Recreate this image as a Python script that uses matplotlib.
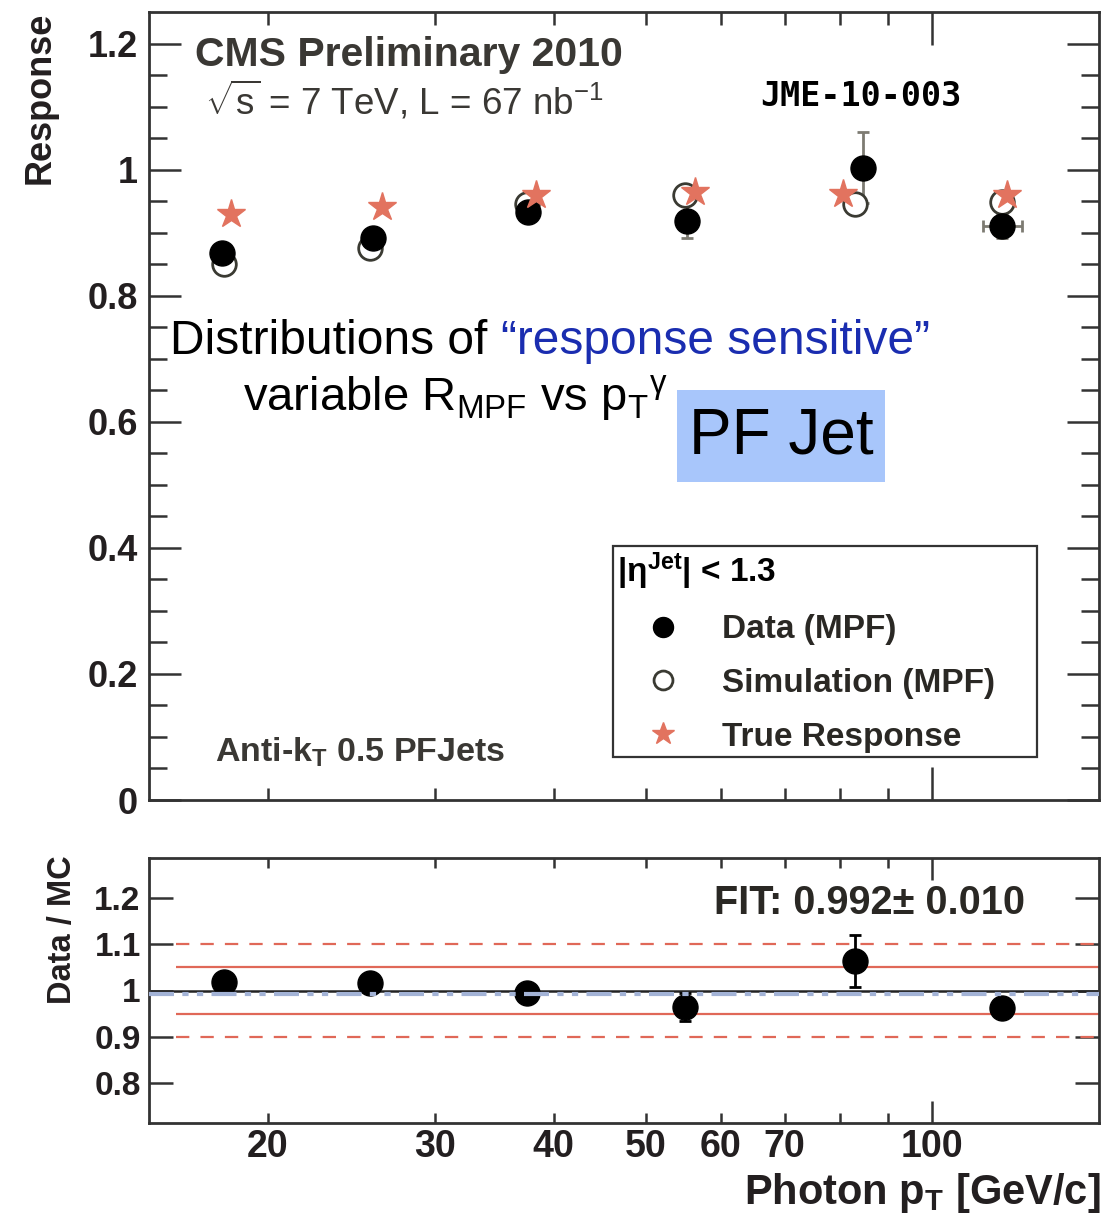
import numpy as np
import matplotlib
matplotlib.use('Agg')
import matplotlib.pyplot as plt
from matplotlib.ticker import FixedLocator, NullFormatter, FixedFormatter
from matplotlib.patches import Rectangle

plt.rcParams['font.family'] = ['Liberation Sans', 'DejaVu Sans']
plt.rcParams['mathtext.fontset'] = 'custom'
plt.rcParams['mathtext.rm'] = 'Liberation Sans'
plt.rcParams['mathtext.it'] = 'Liberation Sans:italic'
plt.rcParams['mathtext.bf'] = 'Liberation Sans:bold'

# photon pT bin centres (GeV/c)
pt_data = [17.9, 25.8, 37.6, 55.2, 84.7, 118.5]
pt_mc = [18.0, 25.6, 37.5, 55.0, 83.1, 118.5]
pt_true = [18.3, 26.4, 38.3, 56.3, 80.7, 120.0]

# MPF response
data_mpf = [0.867, 0.892, 0.932, 0.919, 1.003, 0.910]
data_err = [0.010, 0.010, 0.010, 0.027, 0.056, 0.019]
data_xlo = [0, 0, 0, 0, 0, 5.3]
data_xhi = [0, 0, 0, 0, 0, 6.0]
sim_mpf = [0.851, 0.876, 0.946, 0.959, 0.945, 0.948]
true_resp = [0.930, 0.940, 0.959, 0.964, 0.962, 0.959]

# data / MC ratio
ratio = [1.019, 1.017, 0.994, 0.965, 1.063, 0.963]
ratio_err = [0.010, 0.010, 0.010, 0.030, 0.056, 0.012]
fit_val, fit_err = 0.992, 0.010

xticks_lab = [20, 30, 40, 50, 60, 70, 100]
xticks_min = [80, 90, 200]

INK = '#231f20'
STAR = '#e2735f'

W, H = 1104, 1222
fig = plt.figure(figsize=(W / 100, H / 100), dpi=100)


def fx(px):
    return px / W


def fy(py):
    return 1 - py / H


ax = fig.add_axes([fx(149), fy(800), fx(1099) - fx(149), fy(12) - fy(800)])
rax = fig.add_axes([fx(149), fy(1123), fx(1099) - fx(149), fy(858) - fy(1123)])

for a in (ax, rax):
    a.set_xscale('log')
    a.set_xlim(15, 150)
    for s in a.spines.values():
        s.set_linewidth(2.0)
        s.set_color('#333333')
    a.xaxis.set_major_locator(FixedLocator(xticks_lab))
    a.xaxis.set_major_formatter(FixedFormatter([str(v) for v in xticks_lab]))
    a.xaxis.set_minor_locator(FixedLocator(xticks_min))
    a.xaxis.set_minor_formatter(NullFormatter())
    a.tick_params(which='both', direction='in', top=True, right=True,
                  color='#333333', width=1.8, labelcolor=INK)

# ---- response panel
ax.set_ylim(0, 1.25)
ax.set_yticks([0, 0.2, 0.4, 0.6, 0.8, 1.0, 1.2])
ax.yaxis.set_major_formatter(FixedFormatter(['0', '0.2', '0.4', '0.6', '0.8', '1', '1.2']))
ax.yaxis.set_minor_locator(FixedLocator(np.arange(0, 1.25, 0.05)))
ax.tick_params(axis='y', which='major', length=23, labelsize=26, pad=8)
ax.tick_params(axis='y', which='minor', length=13)
ax.tick_params(axis='x', which='both', length=9, labelbottom=False)
for lab in ax.get_yticklabels():
    lab.set_fontweight('bold')

ax.errorbar(pt_data, data_mpf, yerr=data_err, xerr=[data_xlo, data_xhi], fmt='none',
            ecolor='#7d7b72', elinewidth=2, capsize=4, capthick=2, zorder=2)
h_sim, = ax.plot(pt_mc, sim_mpf, 'o', ms=17, mfc='white', mec='#3a3a32', mew=2, ls='none', zorder=3)
h_data, = ax.plot(pt_data, data_mpf, 'o', ms=18, color='black', ls='none', zorder=4)
h_true, = ax.plot(pt_true, true_resp, '*', ms=21, color=STAR, mec=STAR, ls='none', zorder=5)

fig.text(fx(195), fy(55), 'CMS Preliminary 2010', fontsize=29.5, fontweight='bold',
         color='#3a3834', va='center', ha='left')
fig.text(fx(205), fy(101), r'$\sqrt{\mathrm{s}}$ = 7 TeV, L = 67 nb$^{\mathrm{-1}}$', fontsize=26.5,
         color='#3a3834', va='center', ha='left')
fig.text(fx(861), fy(96), 'JME-10-003', fontsize=24, fontweight='bold',
         family='DejaVu Sans Mono', color='black', va='center', ha='center')
fig.text(fx(215), fy(752), r'Anti-k$_{\mathbf{T}}$ 0.5 PFJets', fontsize=24.5, fontweight='bold',
         color='#3a3834', va='center', ha='left')

leg = ax.legend([h_data, h_sim, h_true], ['Data (MPF)', 'Simulation (MPF)', 'True Response'],
                title=r'|η$^{\mathbf{Jet}}$| < 1.3', alignment='left',
                loc='upper left', bbox_to_anchor=(0.488, 0.3223, 0.447, 0.0), mode='expand',
                borderaxespad=0, borderpad=0.12, labelspacing=0.68, handlelength=2.8,
                handletextpad=0.35, fancybox=False, edgecolor='#333333', framealpha=1,
                prop={'size': 24, 'weight': 'bold'}, title_fontproperties={'size': 24, 'weight': 'bold'},
                markerscale=0.8)
leg.get_frame().set_linewidth(1.6)
for t in leg.get_texts():
    t.set_color('#2a2824')

# slide overlays
t1 = fig.text(fx(170), fy(342), 'Distributions of ', fontsize=34.5, color='black',
              va='center', ha='left')
ax.annotate('\u201cresponse sensitive\u201d', xy=(1, 0.5), xycoords=t1, fontsize=34.5,
            color='#1a2db0', va='center', ha='left', annotation_clip=False)

fig.text(fx(243), fy(398), r'variable R$_{\mathrm{MPF}}$ vs p$_{\mathrm{T}}{}^{\mathrm{\gamma}}$',
         fontsize=34, color='black', va='center', ha='left')
fig.add_artist(Rectangle((fx(677), fy(482)), fx(885) - fx(677), fy(390) - fy(482),
                         transform=fig.transFigure, facecolor='#a8c6fb', edgecolor='none'))
fig.text(fx(781), fy(437), 'PF Jet', fontsize=46, color='black', va='center', ha='center')

# ---- ratio panel
rax.set_ylim(0.714, 1.286)
rax.set_yticks([0.8, 0.9, 1.0, 1.1, 1.2])
rax.yaxis.set_major_formatter(FixedFormatter(['0.8', '0.9', '1', '1.1', '1.2']))
rax.tick_params(axis='y', which='major', length=17, labelsize=24, pad=6)
rax.tick_params(axis='x', which='both', length=7, labelsize=27, pad=4)
for lab in rax.get_xticklabels() + rax.get_yticklabels():
    lab.set_fontweight('bold')

rax.hlines([1.1, 0.9], 16, 150, colors='#e06858', linestyles=(0, (6, 5)), lw=1.6, zorder=2)
rax.hlines([1.05, 0.95], 16, 150, colors='#e06858', lw=1.6, zorder=2)
rax.axhline(1.0, color='#222222', lw=1.8, zorder=2)
rax.errorbar(pt_mc, ratio, yerr=ratio_err, fmt='o', ms=18, color='black',
             elinewidth=2, capsize=4, capthick=2, zorder=4)
rax.axhline(fit_val, color='#a3b3d6', lw=3, ls=(0, (6, 2, 1.5, 2, 1.5, 2)), zorder=5)
rax.text(0.595, 0.83, f'FIT: {fit_val:.3f}\u00b1 {fit_err:.3f}', transform=rax.transAxes,
         fontsize=28.5, fontweight='bold', color='#2a2824', va='center', ha='left')

# longer tick at 100 GeV
for a, big in ((ax, 24), (rax, 16)):
    t100 = a.xaxis.get_major_ticks()[-1]
    t100.tick1line.set_markersize(big)
    t100.tick2line.set_markersize(big)

fig.text(fx(40), fy(12), 'Response', rotation=90, fontsize=26, fontweight='bold',
         color=INK, va='top', ha='center')
fig.text(fx(63), fy(855), 'Data / MC', rotation=90, fontsize=23.5, fontweight='bold',
         color=INK, va='top', ha='center')
fig.text(fx(1101), fy(1193), r'Photon p$_{\mathbf{T}}$ [GeV/c]', fontsize=30, fontweight='bold',
         color=INK, va='center', ha='right')

fig.savefig('out.png', dpi=100, facecolor='white')
